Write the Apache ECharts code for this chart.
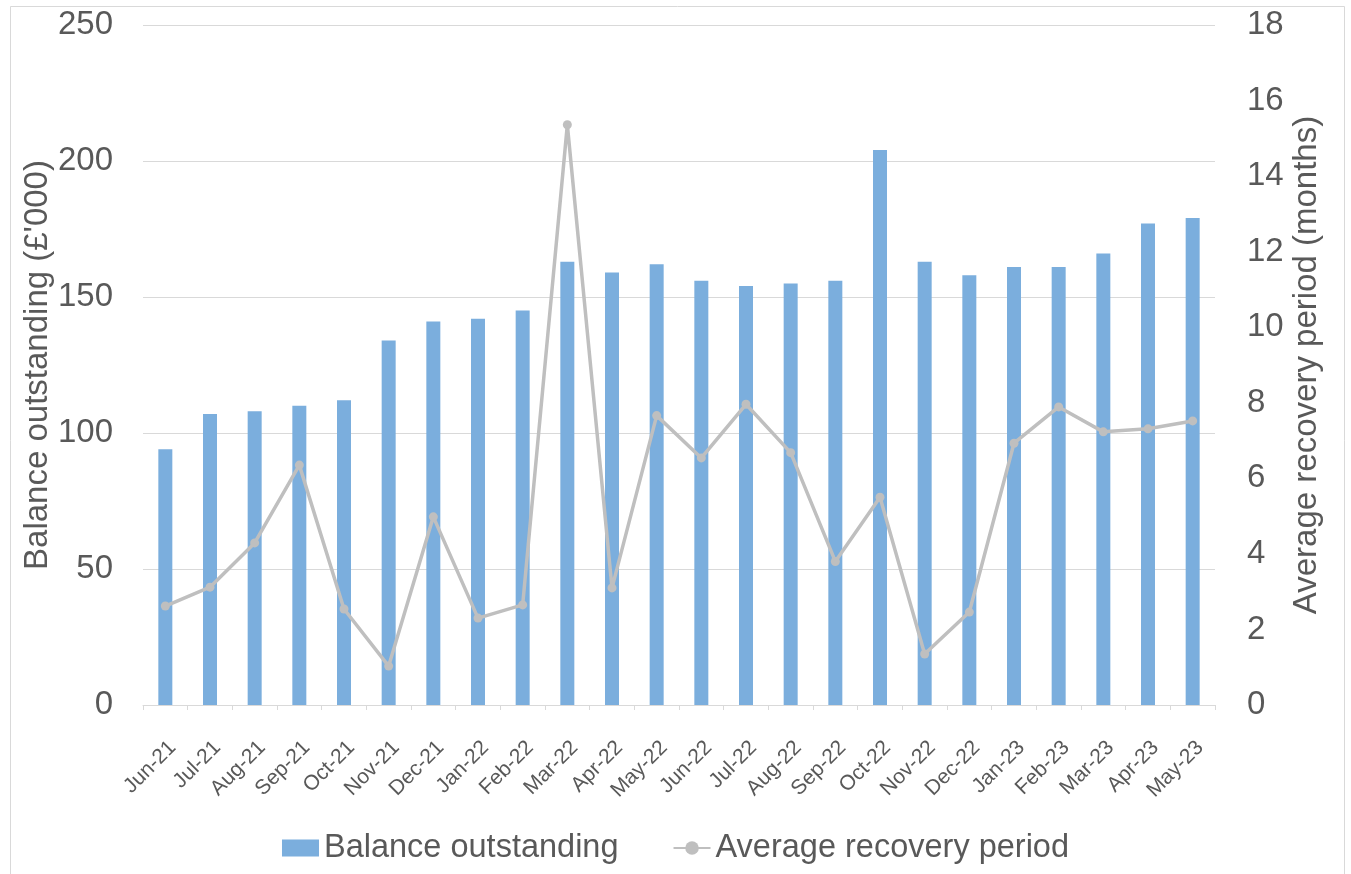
<!DOCTYPE html>
<html>
<head>
<meta charset="utf-8">
<script src="https://cdn.jsdelivr.net/npm/echarts@6/dist/echarts.min.js"></script>
<style>
html,body{margin:0;padding:0;background:#fff;}
#chart{width:1351px;height:874px;}
</style>
</head>
<body>
<div id="chart"></div>
<script>
const categories = ['Jun-21','Jul-21','Aug-21','Sep-21','Oct-21','Nov-21','Dec-21','Jan-22','Feb-22','Mar-22','Apr-22','May-22','Jun-22','Jul-22','Aug-22','Sep-22','Oct-22','Nov-22','Dec-22','Jan-23','Feb-23','Mar-23','Apr-23','May-23'];
const balanceOutstanding = [94,107,108,110,112,134,141,142,145,163,159,162,156,154,155,156,204,163,158,161,161,166,177,179];
const recoveryPeriod = [2.62,3.12,4.29,6.35,2.54,1.03,4.98,2.30,2.65,15.36,3.10,7.66,6.54,7.96,6.68,3.80,5.50,1.35,2.46,6.93,7.89,7.23,7.31,7.52];
const leftTicks = {min:0, max:250, interval:50};
const rightTicks = {min:0, max:18, interval:2};

const FONT = 'Liberation Sans, Arial, sans-serif';
const TXT = '#595959';
const GRID = '#d9d9d9';
const BIG = 33;

const chart = echarts.init(document.getElementById('chart'), null, {renderer:'canvas'});
chart.setOption({
  animation:false,
  backgroundColor:'#fff',
  textStyle:{fontFamily:FONT},
  graphic:[{
    type:'rect', silent:true,
    shape:{x:10.5,y:6.5,width:1334,height:880},
    style:{fill:'none',stroke:GRID,lineWidth:1}
  }],
  grid:{left:143,right:136,top:25,bottom:169,containLabel:false},
  legend:{
    left:'center', top:824,
    itemWidth:37, itemHeight:17, itemGap:54,
    textStyle:{color:TXT,fontSize:32.5,fontFamily:FONT,lineHeight:38},
    data:[
      {name:'Balance outstanding', icon:'rect'},
      {name:'Average recovery period'}
    ]
  },
  xAxis:{
    type:'category', data:categories, boundaryGap:true,
    axisLine:{lineStyle:{color:GRID,width:1}},
    axisTick:{show:true,length:5,lineStyle:{color:GRID},alignWithLabel:false},
    axisLabel:{rotate:45,fontSize:21,color:TXT,margin:32,verticalAlign:'top',interval:0,fontFamily:FONT},
    splitLine:{show:false}
  },
  yAxis:[{
    type:'value', min:leftTicks.min, max:leftTicks.max, interval:leftTicks.interval,
    name:"Balance outstanding (£'000)", nameLocation:'middle', nameGap:89, nameRotate:90,
    nameMoveOverlap:false,
    nameTextStyle:{color:TXT,fontSize:BIG,fontFamily:FONT},
    axisLine:{show:false}, axisTick:{show:false},
    axisLabel:{color:TXT,fontSize:BIG,margin:30,fontFamily:FONT},
    splitLine:{lineStyle:{color:GRID,width:1}}
  },{
    type:'value', position:'right', min:rightTicks.min, max:rightTicks.max, interval:rightTicks.interval,
    name:'Average recovery period (months)', nameLocation:'middle', nameGap:75, nameRotate:90,
    nameMoveOverlap:false,
    nameTextStyle:{color:TXT,fontSize:BIG,fontFamily:FONT},
    axisLine:{show:false}, axisTick:{show:false},
    axisLabel:{color:TXT,fontSize:BIG,margin:32,fontFamily:FONT},
    splitLine:{show:false}
  }],
  series:[{
    name:'Balance outstanding', type:'bar', yAxisIndex:0,
    data:balanceOutstanding, barWidth:14,
    itemStyle:{color:'#7BAEDD'}
  },{
    name:'Average recovery period', type:'line', yAxisIndex:1,
    data:recoveryPeriod,
    lineStyle:{color:'#BFBFBF',width:3.5},
    itemStyle:{color:'#BFBFBF'},
    symbol:'circle', symbolSize:9, showAllSymbol:true
  }]
});
</script>
</body>
</html>
